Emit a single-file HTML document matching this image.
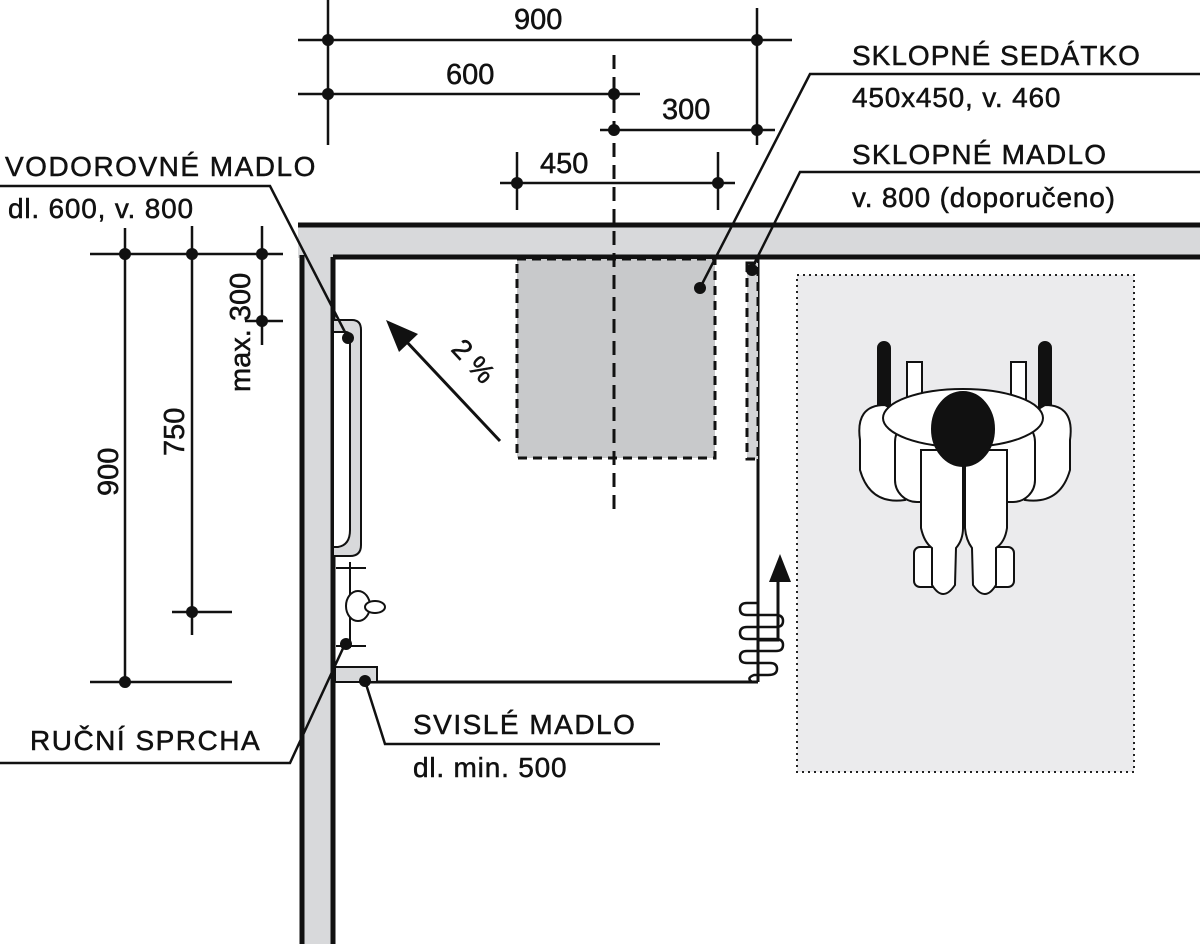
<!DOCTYPE html>
<html><head><meta charset="utf-8"><style>
html,body{margin:0;padding:0;background:#fff;}
svg{display:block;}
text{font-family:"Liberation Sans",sans-serif;fill:#111;stroke:#111;stroke-width:0.5;}
</style></head><body>
<svg width="1200" height="944" viewBox="0 0 1200 944" xmlns="http://www.w3.org/2000/svg">
<rect x="298" y="225" width="902" height="33" fill="#d8d9db"/>
<rect x="300" y="225" width="33" height="719" fill="#d8d9db"/>
<line x1="298" y1="225" x2="1200" y2="225" stroke="#111" stroke-width="5"/>
<line x1="333" y1="257" x2="1200" y2="257" stroke="#111" stroke-width="5"/>
<line x1="302" y1="255" x2="302" y2="944" stroke="#111" stroke-width="5"/>
<line x1="333" y1="257" x2="333" y2="944" stroke="#111" stroke-width="5"/>
<rect x="797" y="275" width="337" height="497" fill="#ebebed" stroke="#222" stroke-width="2" stroke-dasharray="2 4"/>
<line x1="758" y1="258" x2="758" y2="682" stroke="#111" stroke-width="3"/>
<line x1="370" y1="682" x2="758" y2="682" stroke="#111" stroke-width="3"/>
<rect x="517" y="259" width="198" height="199" fill="#c8c9cb" stroke="#111" stroke-width="3" stroke-dasharray="9 6"/>
<line x1="614" y1="55" x2="614" y2="512" stroke="#111" stroke-width="3" stroke-dasharray="14 8"/>
<rect x="747" y="263" width="11" height="196" fill="#d4d5d7" stroke="#111" stroke-width="3" stroke-dasharray="9 6"/>
<circle cx="752" cy="270" r="6" fill="#111"/>
<circle cx="700" cy="288" r="6" fill="#111"/>
<path d="M334 320 H352 Q361 320 361 330 V545 Q361 556 350 556 H334" fill="#d8d9db" stroke="#111" stroke-width="2"/>
<path d="M334 332 H346 Q350 332 350 338 V530 Q350 545 338 547 H334" fill="#fff" stroke="#111" stroke-width="2"/>
<circle cx="348" cy="338" r="6" fill="#111"/>
<line x1="350" y1="562" x2="350" y2="648" stroke="#111" stroke-width="2"/>
<line x1="336" y1="568" x2="366" y2="568" stroke="#111" stroke-width="2"/>
<line x1="336" y1="646" x2="366" y2="646" stroke="#111" stroke-width="2"/>
<ellipse cx="358" cy="606" rx="12" ry="15" fill="#fff" stroke="#111" stroke-width="2"/>
<ellipse cx="375" cy="607" rx="10" ry="6" fill="#fff" stroke="#111" stroke-width="2"/>
<circle cx="346" cy="644" r="6" fill="#111"/>
<rect x="335" y="667" width="42" height="15" fill="#d8d9db" stroke="#111" stroke-width="2"/>
<circle cx="365" cy="681" r="6" fill="#111"/>
<path d="M757 603 H747 Q740 603 740 609 Q740 615 747 615 H776 Q783 615 783 621 Q783 627 776 627 H747 Q740 627 740 633 Q740 639 747 639 H776 Q783 639 783 645 Q783 651 776 651 H747 Q740 651 740 657 Q740 663 747 663 H770 Q777 663 777 669 Q777 675 768 675 H754 Q746 678 752 682" fill="none" stroke="#111" stroke-width="2.5"/>
<path d="M758 640 H778 V575" fill="none" stroke="#111" stroke-width="3"/>
<polygon points="780,554 769,582 791,582" fill="#111"/>
<line x1="500" y1="441" x2="405" y2="340" stroke="#111" stroke-width="3"/>
<polygon points="386,320 418,334 399,352" fill="#111"/>
<text x="0" y="0" font-size="28" transform="translate(450,350) rotate(47)">2 %</text>
<g stroke="#111" stroke-width="2.5">
<line x1="328" y1="0" x2="328" y2="145"/>
<line x1="757" y1="8" x2="757" y2="145"/>
<line x1="298" y1="40" x2="792" y2="40"/>
<line x1="298" y1="94" x2="640" y2="94"/>
<line x1="600" y1="130" x2="775" y2="130"/>
<line x1="500" y1="183" x2="735" y2="183"/>
<line x1="517" y1="152" x2="517" y2="210"/>
<line x1="718" y1="152" x2="718" y2="210"/>
</g>
<g fill="#111">
<circle cx="328" cy="40" r="6"/><circle cx="757" cy="40" r="6"/>
<circle cx="328" cy="94" r="6"/><circle cx="614" cy="94" r="6"/>
<circle cx="614" cy="130" r="6"/><circle cx="757" cy="130" r="6"/>
<circle cx="517" cy="183" r="6"/><circle cx="718" cy="183" r="6"/>
</g>
<text x="514" y="29" font-size="29">900</text>
<text x="446" y="84" font-size="29">600</text>
<text x="662" y="119" font-size="29">300</text>
<text x="540" y="173" font-size="29">450</text>
<g stroke="#111" stroke-width="2.5">
<line x1="90" y1="254" x2="283" y2="254"/>
<line x1="125" y1="228" x2="125" y2="682"/>
<line x1="192" y1="226" x2="192" y2="635"/>
<line x1="262" y1="226" x2="262" y2="345"/>
<line x1="245" y1="321" x2="283" y2="321"/>
<line x1="172" y1="612" x2="232" y2="612"/>
<line x1="90" y1="682" x2="232" y2="682"/>
</g>
<g fill="#111">
<circle cx="125" cy="254" r="6"/><circle cx="192" cy="254" r="6"/><circle cx="262" cy="254" r="6"/>
<circle cx="262" cy="321" r="6"/><circle cx="192" cy="612" r="6"/><circle cx="125" cy="682" r="6"/>
</g>
<text font-size="29" transform="translate(118,496) rotate(-90)">900</text>
<text font-size="29" transform="translate(184,456) rotate(-90)">750</text>
<text font-size="29" transform="translate(250,392) rotate(-90)">max. 300</text>
<g stroke="#111" stroke-width="2.5" fill="none">
<polyline points="0,186 270,186 348,338"/>
<polyline points="1200,74 810,74 700,288"/>
<polyline points="1200,172 800,172 752,268"/>
<polyline points="0,763 290,763 345,644"/>
<polyline points="660,744 385,744 365,681"/>
</g>
<g font-size="28" letter-spacing="1.5">
<text x="5" y="176">VODOROVNÉ MADLO</text>
<text x="8" y="218" letter-spacing="0.8">dl. 600, v. 800</text>
<text x="852" y="65" letter-spacing="1">SKLOPNÉ SEDÁTKO</text>
<text x="852" y="107" letter-spacing="0.8">450x450, v. 460</text>
<text x="852" y="164" letter-spacing="1.2">SKLOPNÉ MADLO</text>
<text x="852" y="207" letter-spacing="0.8">v. 800 (doporučeno)</text>
<text x="30" y="750">RUČNÍ SPRCHA</text>
<text x="413" y="734">SVISLÉ MADLO</text>
<text x="413" y="777" letter-spacing="0.8">dl. min. 500</text>
</g>
<g stroke="#111" stroke-width="2">
<rect x="878" y="342" width="12" height="156" rx="6" fill="#111"/>
<rect x="1039" y="342" width="12" height="156" rx="6" fill="#111"/>
<rect x="907" y="362" width="15" height="40" fill="#fff"/>
<rect x="1011" y="362" width="15" height="40" fill="#fff"/>
<path d="M860 440 Q855 405 885 405 L910 420 L905 500 Q870 505 860 470 Z" fill="#fff"/>
<path d="M1070 440 Q1075 405 1045 405 L1020 420 L1025 500 Q1060 505 1070 470 Z" fill="#fff"/>
<rect x="895" y="420" width="140" height="82" rx="22" fill="#fff"/>
<rect x="914" y="547" width="40" height="40" rx="6" fill="#fff"/>
<rect x="974" y="547" width="40" height="40" rx="6" fill="#fff"/>
<path d="M921 450 L921 528 Q924 542 932 548 L932 585 Q943 603 955 585 L956 548 Q963 540 963 528 L963 450 Z" fill="#fff"/>
<path d="M965 450 L965 528 Q966 540 972 548 L973 585 Q985 603 996 585 L996 548 Q1005 542 1007 528 L1007 450 Z" fill="#fff"/>
<ellipse cx="963" cy="418" rx="80" ry="29" fill="#fff"/>
<ellipse cx="963" cy="429" rx="31" ry="37" fill="#111"/>
</g>
</svg>
</body></html>
